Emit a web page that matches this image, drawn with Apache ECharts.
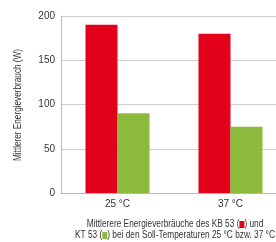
<!DOCTYPE html>
<html><head><meta charset="utf-8">
<script src="https://cdn.jsdelivr.net/npm/echarts@6/dist/echarts.min.js"></script>
<style>html,body{margin:0;padding:0;background:#fff}#c{width:276px;height:242px}</style>
</head><body><div id="c"></div>
<script>
const categories = ['25 °C', '37 °C'];
const kb53 = [190, 180];
const kt53 = [90, 75];
const yTicks = [0, 50, 100, 150, 200];
const yName = 'Mittlerer Energieverbrauch (W)';
const captionLine1 = 'Mittlerere Energieverbräuche des KB 53 (';
const captionLine1b = ') und';
const captionLine2 = 'KT 53 (';
const captionLine2b = ') bei den Soll-Temperaturen 25 °C bzw. 37 °C';
const FONT = '"Liberation Sans", sans-serif';
const chart = echarts.init(document.getElementById('c'), null, {renderer: 'canvas'});
const sq = (c) => ({backgroundColor: c, width: 6, height: 7, font: '10px ' + FONT});
chart.setOption({
  animation: false,
  grid: {left: 61, top: 16, width: 226, height: 177, outerBoundsMode: 'none', containLabel: false},
  xAxis: {
    type: 'category', data: categories,
    axisLine: {lineStyle: {color: '#b8b8b8'}},
    axisTick: {show: false},
    axisLabel: {color: '#333', fontFamily: FONT, fontSize: 10, margin: 6}
  },
  yAxis: {
    type: 'value', min: yTicks[0], max: yTicks[yTicks.length - 1], interval: 50,
    axisLine: {show: true, lineStyle: {color: '#b8b8b8'}},
    axisTick: {show: false},
    axisLabel: {color: '#333', fontFamily: FONT, fontSize: 10, margin: 6},
    splitLine: {lineStyle: {color: '#cfcfcf'}}
  },
  series: [
    {type: 'bar', data: kb53, barWidth: 32, barGap: '0%', itemStyle: {color: '#e2001a'}},
    {type: 'bar', data: kt53, barWidth: 32, barGap: '0%', itemStyle: {color: '#8cba3c'}}
  ],
  graphic: [{
    type: 'text', x: 175, y: 219, scaleX: 0.83,
    style: {
      text: captionLine1 + '{r|\u00a0}' + captionLine1b + '\n' + captionLine2 + '{g|\u00a0}' + captionLine2b,
      font: '10px ' + FONT, fill: '#333', align: 'center', verticalAlign: 'top', lineHeight: 11,
      rich: {r: sq('#e2001a'), g: sq('#8cba3c')}
    }
  }, {
    type: 'text', x: 18, y: 105, rotation: Math.PI / 2, scaleX: 0.82,
    style: {
      text: yName, font: '10px ' + FONT, fill: '#333', align: 'center', verticalAlign: 'middle'
    }
  }]
});
</script></body></html>
